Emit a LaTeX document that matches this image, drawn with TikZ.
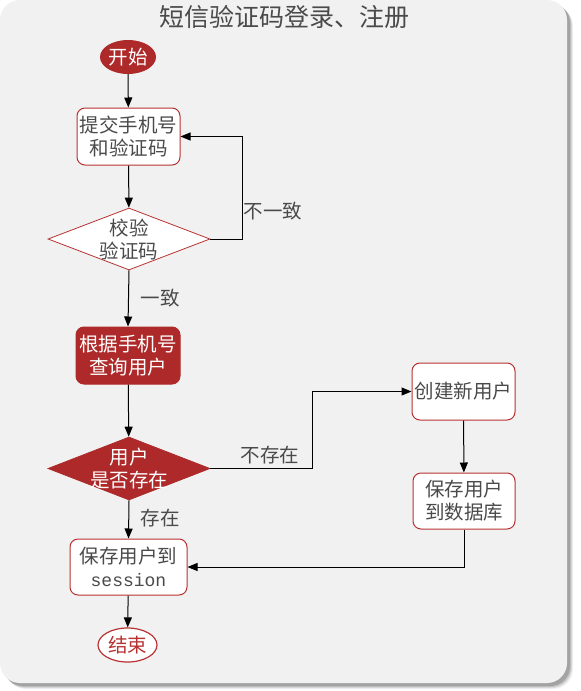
\documentclass[tikz,border=0pt]{standalone}
\usepackage{fontspec}
\setmainfont{Noto Sans CJK SC}
\newfontfamily\codefont{Liberation Mono}
\usetikzlibrary{shapes.geometric,arrows.meta}
\definecolor{panelbg}{HTML}{F1F1F1}
\definecolor{brick}{HTML}{AE2A2A}
\definecolor{rim}{HTML}{B83232}
\definecolor{ink}{HTML}{4A4A4A}
\tikzset{
  txt/.style={font=\fontsize{19.5}{23}\selectfont, align=center},
  plainbox/.style={txt, draw=rim, line width=1pt, rounded corners=8pt, fill=white,
    text=ink, inner sep=0pt, minimum width=103pt, minimum height=57pt},
  darkbox/.style={plainbox, fill=brick, draw=brick, text=white},
  decision/.style={diamond, draw=rim, line width=0.8pt, fill=white, inner sep=0pt,
    minimum width=162pt, minimum height=62pt},
  darkdecision/.style={decision, fill=brick, draw=brick},
  flow/.style={draw=black, line width=1pt, -{Triangle[length=10pt,width=8pt]}},
  edgelabel/.style={txt, text=ink},
}
\begin{document}
\begin{tikzpicture}[x=1pt,y=-1pt]
\useasboundingbox (0,0) rectangle (581,691);
% panel with soft shadow
\foreach \o/\a in {6/0.06,5/0.09,4/0.12,3/0.15}
  \fill[black,opacity=\a,rounded corners=20pt] (\o,\o) rectangle (567+\o,683+\o);
\fill[panelbg,rounded corners=20pt] (0,0) rectangle (567,683);

\node[font=\fontsize{25}{28}\selectfont, text=ink] (title) at (284,17) {短信验证码登录、注册};

\node[ellipse, fill=brick, minimum width=56pt, minimum height=34pt, inner sep=0pt,
      txt, text=white] (start) at (128,57) {开始};
\node[plainbox] (submit) at (128.5,136.5) {提交手机号\\和验证码};
\node[decision, label={[txt,text=ink]center:校验\\验证码}] (check) at (129,239) {};
\node[darkbox, minimum width=104pt] (query) at (128,355.5) {根据手机号\\查询用户};
\node[darkdecision, minimum height=63pt, label={[txt,text=white]center:用户\\是否存在}] (exists) at (129,468.5) {};
\node[plainbox] (create) at (463.5,391.5) {创建新用户};
\node[plainbox, minimum width=102pt, minimum height=56pt] (savedb) at (464,501) {保存用户\\到数据库};
\node[plainbox, minimum width=117pt, minimum height=56pt] (savesess) at (128.5,567)
  {保存用户到\\{\codefont\fontsize{18}{23}\selectfont session}};
\node[ellipse, draw=rim, line width=1.2pt, fill=white, minimum width=59pt, minimum height=34pt,
      inner sep=0pt, txt, text=rim] (end) at (127.5,645) {结束};

\draw[flow] (start) -- (submit);
\draw[flow] (submit) -- (check);
\draw[flow] (check.east) -- ++(32,0) |- (submit.east);
\node[edgelabel] (lblno) at (273,211) {不一致};
\draw[flow] (check.south) -- (query.north);
\node[edgelabel] (lblyes) at (160,298) {一致};
\draw[flow] (query) -- (exists);
\draw[flow] (exists.east) -- ++(102,0) |- (create.west);
\node[edgelabel] (lblnew) at (270,455) {不存在};
\draw[flow] (create) -- (savedb);
\draw[flow] (savedb.south) |- (savesess.east);
\draw[flow] (exists.south) -- (savesess.north);
\node[edgelabel] (lblhas) at (160,518) {存在};
\draw[flow] (savesess) -- (end);
\end{tikzpicture}
\end{document}
